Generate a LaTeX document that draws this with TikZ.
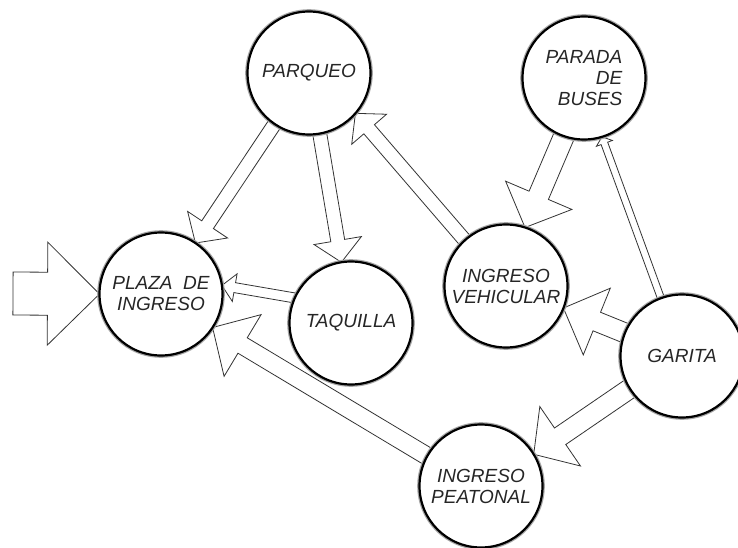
\documentclass[tikz,border=0pt]{standalone}
\usepackage{fontspec}
\setmainfont{Liberation Sans}
\usetikzlibrary{calc}
\pgfdeclarelayer{bg}
\pgfsetlayers{bg,main}
\tikzset{
  place/.style={circle, draw=black, line width=2.2pt, fill=white,
    minimum size=123pt, inner sep=0pt, outer sep=0pt,
    preaction={draw=black!35, line width=4.6pt},
    font=\fontsize{19}{21}\selectfont\itshape, text=black!85, align=center},
  blk/.style={draw=black!80, line width=0.8pt, fill=white, line join=miter}
}
% #1 push-back of start, #2 start, #3 end, #4 half shaft, #5 half head, #6 head length
\newcommand\blockarr[6][6pt]{%
  \coordinate (aE) at (#3);
  \coordinate (aB) at (#2);
  \coordinate (aS) at ($(aB)!-#1!(aE)$);
  \coordinate (aH) at ($(aE)!#6!(aS)$);
  \draw[blk] ($(aS)!#4!90:(aE)$) -- ($(aH)!#4!-90:(aS)$) -- ($(aH)!#5!-90:(aS)$)
    -- (aE) -- ($(aH)!#5!90:(aS)$) -- ($(aH)!#4!90:(aS)$) -- ($(aS)!#4!-90:(aE)$) -- cycle;
}
\begin{document}
\begin{tikzpicture}[x=1pt,y=-1pt]
\useasboundingbox (0,0) rectangle (738,548);
\node[place] (parq)  at (309,73)  {PARQUEO};
\node[place, align=right] (parada) at (584,78) {PARADA\\DE\hspace*{5pt}\\BUSES};
\node[place] (plaza) at (161,294) {PLAZA\ \ DE\\INGRESO};
\node[place] (taq)   at (351,323) {TAQUILLA};
\node[place] (vehi)  at (506,286) {INGRESO\\VEHICULAR};
\node[place] (gar)   at (682,356) {GARITA};
\node[place] (peat)  at (481,486) {INGRESO\\PEATONAL};
\coordinate (ent) at (13,293.5);
\begin{pgfonlayer}{bg}
  \fill[white] (0,0) rectangle (738,548);
  \blockarr[0pt]{ent}{plaza.west}{21.5pt}{51.5pt}{52pt}
  \blockarr{parq.236}{plaza.56}{7pt}{24pt}{22pt}
  \blockarr{parq.-80.5}{taq.99.5}{7pt}{24pt}{22pt}
  \blockarr{taq.156}{plaza.8}{5pt}{14pt}{13pt}
  \blockarr{vehi.132.5}{parq.-41}{7pt}{23pt}{21pt}
  \blockarr{parada.251}{vehi.72}{10.5pt}{36pt}{35pt}
  \blockarr{gar.158}{vehi.-21}{10pt}{36pt}{36pt}
  \blockarr{gar.110}{parada.-73}{3.5pt}{8.5pt}{7pt}
  \blockarr{gar.212}{peat.31}{10pt}{36pt}{32pt}
  \blockarr{peat.151}{plaza.-33}{9pt}{36pt}{35pt}
\end{pgfonlayer}
\end{tikzpicture}
\end{document}
